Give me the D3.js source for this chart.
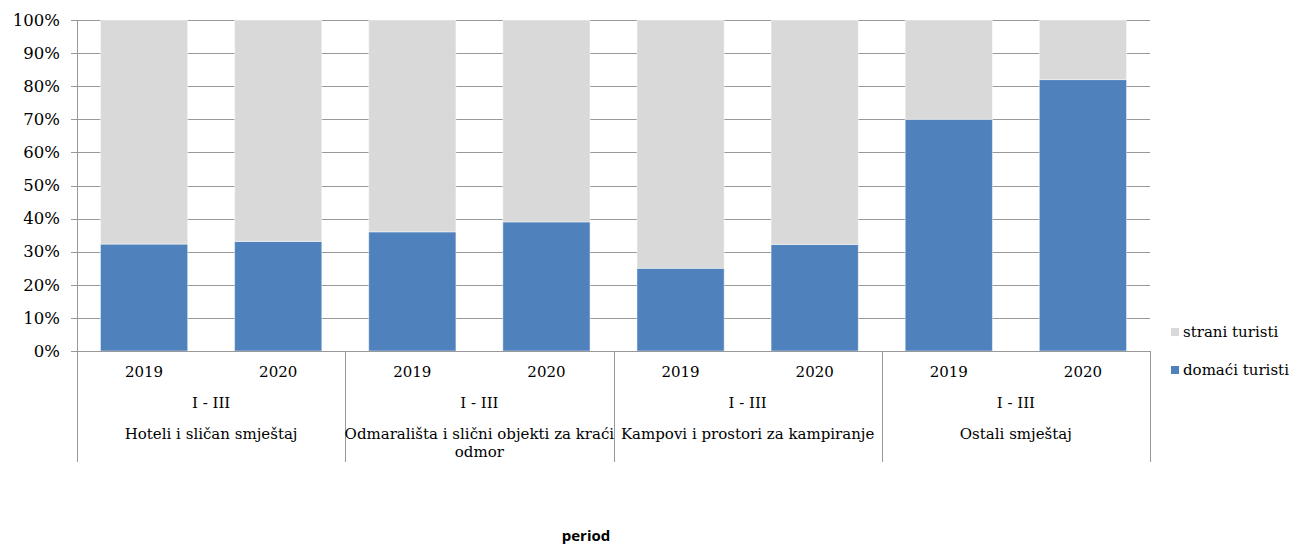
<!DOCTYPE html>
<html>
<head>
<meta charset="utf-8">
<script src="https://cdn.jsdelivr.net/npm/d3@7"></script>
<style>
  body { margin: 0; background: #fff; }
  svg { display: block; }
  text { font-family: "DejaVu Serif", serif; font-size: 15px; fill: #000; }
</style>
</head>
<body>
<svg id="chart" width="1291" height="547"></svg>
<script>
// categories
var groups = ["Hoteli i sličan smještaj", "Odmarališta i slični objekti za kraći odmor", "Kampovi i prostori za kampiranje", "Ostali smještaj"];
var years = ["2019", "2020"];
var period = "I - III";
// shares (%), order: group by group, 2019 then 2020
var domaci = [32.3, 33.1, 36.0, 39.0, 25.0, 32.2, 70.0, 82.0];
var strani = [67.7, 66.9, 64.0, 61.0, 75.0, 67.8, 30.0, 18.0];
var yTicks = [0, 10, 20, 30, 40, 50, 60, 70, 80, 90, 100];
var seriesNames = { domaci: "domaći turisti", strani: "strani turisti" };

var rows = [];
groups.forEach(function(g, gi) {
  years.forEach(function(y, yi) {
    var k = gi * years.length + yi;
    rows.push({ group: g, year: y, domaci: domaci[k], strani: strani[k] });
  });
});

var plotLeft = 77, plotRight = 1150, plotTop = 20, plotBottom = 351;

var svg = d3.select("#chart");

var x0 = d3.scaleBand().domain(groups).range([plotLeft, plotRight]).padding(0);
var x1 = d3.scaleBand().domain(years).range([0, x0.bandwidth()])
    .paddingInner(0.35).paddingOuter(0.175);
var y = d3.scaleLinear().domain([0, 1]).range([plotBottom, plotTop]);

var stack = d3.stack().keys(["domaci", "strani"]).offset(d3.stackOffsetExpand);
var stacked = stack(rows);
var colors = { domaci: "#4f81bd", strani: "#d9d9d9" };

// gridlines
svg.append("g")
  .selectAll("line")
  .data(yTicks)
  .join("line")
    .attr("x1", plotLeft - 6)
    .attr("x2", plotRight)
    .attr("y1", function(d) { return Math.round(y(d / 100)) + 0.5; })
    .attr("y2", function(d) { return Math.round(y(d / 100)) + 0.5; })
    .attr("stroke", "#999")
    .attr("stroke-width", 1);

// y labels
svg.append("g")
  .selectAll("text")
  .data(yTicks)
  .join("text")
    .attr("x", 60)
    .attr("y", function(d) { return y(d / 100); })
    .attr("dy", "0.35em")
    .attr("text-anchor", "end")
    .style("font-size", "16.5px")
    .text(function(d) { return d + "%"; });

// bars
svg.append("g")
  .selectAll("g")
  .data(stacked)
  .join("g")
    .attr("fill", function(d) { return colors[d.key]; })
  .selectAll("rect")
  .data(function(d) { return d; })
  .join("rect")
    .attr("x", function(d) { return x0(d.data.group) + x1(d.data.year); })
    .attr("width", x1.bandwidth())
    .attr("y", function(d) { return y(d[1]); })
    .attr("height", function(d) { return y(d[0]) - y(d[1]); })
    .attr("stroke", "#fff")
    .attr("stroke-opacity", 0.45)
    .attr("stroke-width", 1);

// axes lines
svg.append("line")
    .attr("x1", plotLeft + 0.5).attr("x2", plotLeft + 0.5)
    .attr("y1", plotTop).attr("y2", 462)
    .attr("stroke", "#999");
svg.append("line")
    .attr("x1", plotLeft).attr("x2", plotRight)
    .attr("y1", plotBottom + 0.5).attr("y2", plotBottom + 0.5)
    .attr("stroke", "#999");

// group separators
svg.append("g")
  .selectAll("line")
  .data(groups)
  .join("line")
    .attr("x1", function(d) { return Math.round(x0(d) + x0.bandwidth()) + 0.5; })
    .attr("x2", function(d) { return Math.round(x0(d) + x0.bandwidth()) + 0.5; })
    .attr("y1", plotBottom)
    .attr("y2", 462)
    .attr("stroke", "#999");

// year labels
svg.append("g")
  .selectAll("text")
  .data(rows)
  .join("text")
    .attr("x", function(d) { return x0(d.group) + x1(d.year) + x1.bandwidth() / 2; })
    .attr("y", 372)
    .attr("dy", "0.35em")
    .attr("text-anchor", "middle")
    .text(function(d) { return d.year; });

// period labels
svg.append("g")
  .selectAll("text")
  .data(groups)
  .join("text")
    .attr("x", function(d) { return x0(d) + x0.bandwidth() / 2; })
    .attr("y", 403)
    .attr("dy", "0.35em")
    .attr("text-anchor", "middle")
    .text(period);

// category labels (wrapped)
var cat = svg.append("g")
  .selectAll("text")
  .data(groups)
  .join("text")
    .attr("x", function(d) { return x0(d) + x0.bandwidth() / 2; })
    .attr("y", 434)
    .attr("dy", "0.35em")
    .attr("text-anchor", "middle")
    .text(function(d) { return d; });

cat.each(function(d) {
  var text = d3.select(this),
      maxW = x0.bandwidth() + 2,
      words = d.split(" "),
      line = [],
      cx = text.attr("x");
  text.text(null);
  var tspan = text.append("tspan").attr("x", cx);
  words.forEach(function(w) {
    line.push(w);
    tspan.text(line.join(" "));
    if (tspan.node().getComputedTextLength() > maxW && line.length > 1) {
      line.pop();
      tspan.text(line.join(" "));
      line = [w];
      tspan = text.append("tspan").attr("x", cx).attr("dy", "1.2em").text(w);
    }
  });
});

// legend
var legendKeys = ["strani", "domaci"];
var legend = svg.append("g")
  .selectAll("g")
  .data(legendKeys)
  .join("g")
    .attr("transform", function(d, i) { return "translate(1171," + (332 + i * 38) + ")"; });
legend.append("rect")
    .attr("x", 0).attr("y", -4)
    .attr("width", 8).attr("height", 8)
    .attr("fill", function(d) { return colors[d]; });
legend.append("text")
    .attr("x", 12)
    .attr("dy", "0.35em")
    .text(function(d) { return seriesNames[d]; });

// axis title
svg.append("text")
    .attr("x", 586)
    .attr("y", 541)
    .attr("text-anchor", "middle")
    .style("font-family", "'Open Sans', sans-serif")
    .style("font-weight", "bold")
    .style("font-size", "15px")
    .text("period");
</script>
</body>
</html>
